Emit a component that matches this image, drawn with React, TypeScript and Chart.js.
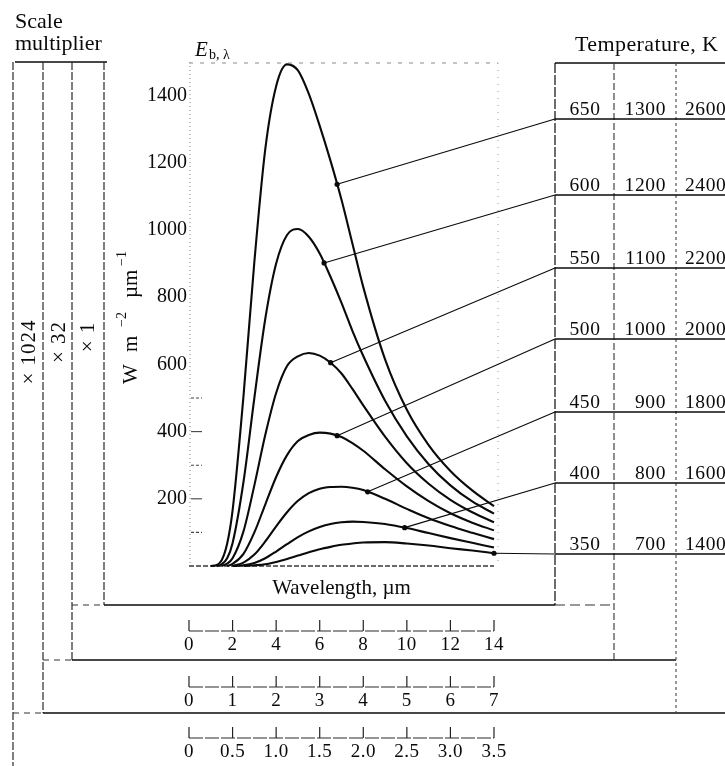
import React, { useEffect, useRef } from "react";
import { Chart, registerables } from "chart.js";

Chart.register(...registerables);

// Wavelength grid, µm (the ×1 scale)
const wavelengths = [1, 1.25, 1.5, 1.75, 2, 2.5, 3, 3.5, 4, 4.5, 5, 5.5, 6, 6.5, 7, 7.5, 8, 9, 10, 11, 12, 13, 14];

// Spectral emissive power E_b,λ in W m^-2 µm^-1 (×1 scale); null = curve not yet started
const eb650 = [0, 2, 17, 66, 165, 505, 905, 1240, 1428, 1493, 1475, 1405, 1310, 1205, 1090, 960, 830, 615, 465, 360, 283, 225, 178];
const eb600 = [null, 0, 5, 23, 68, 250, 500, 735, 900, 985, 1003, 980, 930, 860, 783, 700, 625, 492, 386, 303, 240, 192, 156];
const eb550 = [null, null, 0, 7, 23, 103, 240, 390, 515, 595, 624, 634, 626, 605, 573, 527, 478, 385, 306, 245, 197, 160, 130];
const eb500 = [null, null, null, 0, 6, 36, 100, 183, 265, 330, 372, 390, 397, 394, 384, 366, 343, 288, 237, 193, 157, 129, 106];
const eb450 = [null, null, null, null, 0, 10, 34, 73, 118, 160, 194, 217, 230, 235, 236, 233, 226, 200, 170, 142, 119, 99, 80];
const eb400 = [null, null, null, null, 0, 2, 9, 23, 43, 65, 86, 103, 116, 125, 130, 132, 131, 125, 113, 98, 83, 69, 55];
const eb350 = [null, null, null, null, null, 0, 2, 5, 12, 21, 31, 41, 50, 57, 63, 67, 70, 71, 67, 61, 53, 46, 38];

const curves = [eb650, eb600, eb550, eb500, eb450, eb400, eb350];

// Temperature table, K, one row per curve
const tempsX1 = ["650", "600", "550", "500", "450", "400", "350"];
const tempsX32 = ["1300", "1200", "1100", "1000", "900", "800", "700"];
const tempsX1024 = ["2600", "2400", "2200", "2000", "1800", "1600", "1400"];

// Wavelength where each leader line touches its curve, µm
const leaderAt = [6.8, 6.2, 6.5, 6.8, 8.2, 9.9, 14];

// Axis ticks
const yTickValues = [200, 400, 600, 800, 1000, 1200, 1400];
const yMinorTicks = [100, 200, 300, 400, 500];
const xTicksX1 = ["0", "2", "4", "6", "8", "10", "12", "14"];
const xTicksX32 = ["0", "1", "2", "3", "4", "5", "6", "7"];
const xTicksX1024 = ["0", "0.5", "1.0", "1.5", "2.0", "2.5", "3.0", "3.5"];

const SERIF = '"Liberation Serif", "Times New Roman", serif';
const INK = "#0a0a0a";
const W = 725;
const H = 766;
const Y_AXIS_W = 60;

// table geometry
const ROW_Y = [119, 195, 268, 339, 412, 483, 554];
const COL_X = [555, 614, 676];

function valueAt(series: (number | null)[], lam: number): number {
  for (let i = 0; i < wavelengths.length - 1; i++) {
    const a = wavelengths[i];
    const b = wavelengths[i + 1];
    if (lam >= a && lam <= b) {
      const va = series[i] ?? 0;
      const vb = series[i + 1] ?? 0;
      return va + ((vb - va) * (lam - a)) / (b - a);
    }
  }
  return series[series.length - 1] ?? 0;
}

function seg(
  ctx: CanvasRenderingContext2D,
  x1: number, y1: number, x2: number, y2: number,
  color = INK, width = 1.2, dash: number[] = []
) {
  ctx.save();
  ctx.strokeStyle = color;
  ctx.lineWidth = width;
  ctx.setLineDash(dash);
  ctx.beginPath();
  ctx.moveTo(x1, y1);
  ctx.lineTo(x2, y2);
  ctx.stroke();
  ctx.restore();
}

function text(
  ctx: CanvasRenderingContext2D, s: string, x: number, y: number,
  size = 19, align: CanvasTextAlign = "left", style = "", spacing = 0
) {
  ctx.save();
  ctx.fillStyle = INK;
  ctx.font = `${style} ${size}px ${SERIF}`;
  (ctx as any).letterSpacing = `${spacing}px`;
  ctx.textAlign = align;
  ctx.textBaseline = "alphabetic";
  ctx.fillText(s, x, y);
  ctx.restore();
}

function vtext(ctx: CanvasRenderingContext2D, s: string, cx: number, cy: number, size = 20) {
  ctx.save();
  ctx.translate(cx, cy);
  ctx.rotate(-Math.PI / 2);
  ctx.fillStyle = INK;
  ctx.font = `${size}px ${SERIF}`;
  (ctx as any).letterSpacing = "1px";
  ctx.textAlign = "center";
  ctx.textBaseline = "middle";
  ctx.fillText(s, 0, 0);
  ctx.restore();
}

const figurePlugin = {
  id: "blackbodyFigure",
  beforeDatasetsDraw(chart: any) {
    const ctx: CanvasRenderingContext2D = chart.ctx;
    const { left, right, top, bottom } = chart.chartArea;
    const x = chart.scales.x;
    const y = chart.scales.y;

    // plot frame
    seg(ctx, left + 1, top, left + 1, bottom, "#8a8a8a", 1, [1, 3]);
    seg(ctx, left, top + 1, right + 4, top + 1, "#8a8a8a", 1, [4, 7]);
    seg(ctx, right + 4, top + 1, right + 4, bottom, "#9a9a9a", 1, [1, 6]);
    seg(ctx, left, bottom, x.getPixelForValue(14), bottom, "#3a3a3a", 1.3, [5, 2]);

    // inward ticks on the energy axis
    yMinorTicks.forEach((v) => {
      const py = y.getPixelForValue(v);
      seg(ctx, left + 2, py, left + 13, py, "#444", 1.1, v % 200 ? [3, 2] : []);
    });

    // scale multiplier columns
    seg(ctx, 15, 62, 107, 62, INK, 1.5);
    seg(ctx, 13, 62, 13, H, "#2a2a2a", 1.2, [8, 2]);
    seg(ctx, 43, 62, 43, 713, "#2a2a2a", 1.2, [8, 2]);
    seg(ctx, 72, 62, 72, 660, "#2a2a2a", 1.2, [8, 2]);
    seg(ctx, 104, 62, 104, 605, "#2a2a2a", 1.2, [8, 2]);

    // box bottoms
    seg(ctx, 72, 605, 104, 605, "#333", 1.2, [6, 5]);
    seg(ctx, 104, 605, COL_X[0], 605, INK, 1.3);
    seg(ctx, COL_X[0], 605, COL_X[1], 605, "#333", 1.2, [10, 5]);
    seg(ctx, 43, 660, 72, 660, "#333", 1.2, [6, 5]);
    seg(ctx, 72, 660, COL_X[2], 660, INK, 1.3);
    seg(ctx, 13, 713, 43, 713, "#333", 1.2, [6, 5]);
    seg(ctx, 43, 713, W, 713, INK, 1.3);

    // temperature table frame
    seg(ctx, COL_X[0], 63, W, 63, INK, 1.3);
    seg(ctx, COL_X[0], 63, COL_X[0], 605, INK, 1.2, [10, 2]);
    seg(ctx, COL_X[1], 63, COL_X[1], 660, "#333", 1.1, [7, 3]);
    seg(ctx, COL_X[2], 63, COL_X[2], 713, "#444", 1.1, [3, 3]);
  },
  afterDatasetsDraw(chart: any) {
    const ctx: CanvasRenderingContext2D = chart.ctx;
    const { left, right } = chart.chartArea;
    const x = chart.scales.x;
    const y = chart.scales.y;

    // leader lines from the curves to the temperature rows
    curves.forEach((series, i) => {
      const px = x.getPixelForValue(leaderAt[i]);
      const py = y.getPixelForValue(valueAt(series, leaderAt[i]));
      seg(ctx, px, py, COL_X[0], ROW_Y[i], INK, 1.1);
      seg(ctx, COL_X[0], ROW_Y[i], W, ROW_Y[i], INK, 1.4);
      ctx.save();
      ctx.fillStyle = INK;
      ctx.beginPath();
      ctx.arc(px, py, 2.6, 0, Math.PI * 2);
      ctx.fill();
      ctx.restore();
      text(ctx, tempsX1[i], 585, ROW_Y[i] - 4, 19.5, "center", "", 0.6);
      text(ctx, tempsX32[i], 666, ROW_Y[i] - 4, 19.5, "right", "", 0.6);
      text(ctx, tempsX1024[i], 685, ROW_Y[i] - 4, 19.5, "left", "", 0.6);
    });

    // headings
    text(ctx, "Scale", 15, 28, 22);
    text(ctx, "multiplier", 15, 50, 22);
    text(ctx, "Temperature, K", 575, 51, 22, "left", "", 0.4);
    text(ctx, "E", 195, 56, 21, "left", "italic");
    text(ctx, "b, λ", 209, 59, 14);
    text(ctx, "Wavelength, µm", (left + right) / 2, 594, 21, "center");

    // energy axis title with superscripts, rotated
    ctx.save();
    ctx.translate(137, 384);
    ctx.rotate(-Math.PI / 2);
    ctx.fillStyle = INK;
    ctx.font = `21px ${SERIF}`;
    ctx.fillText("W", 0, 0);
    ctx.fillText("m", 32, 0);
    ctx.fillText("µm", 86, 0);
    ctx.font = `14px ${SERIF}`;
    ctx.fillText("−2", 57, -11);
    ctx.fillText("−1", 118, -11);
    ctx.restore();

    // multiplier labels
    vtext(ctx, "× 1024", 29, 352, 21);
    vtext(ctx, "× 32", 59, 342, 21);
    vtext(ctx, "× 1", 88, 337, 21);

    // wavelength scales for each multiplier
    const rows: [string[], number, number][] = [
      [xTicksX1, 1, 631],
      [xTicksX32, 2, 687],
      [xTicksX1024, 4, 738],
    ];
    rows.forEach(([labels, factor, base]) => {
      const p0 = x.getPixelForValue(0);
      const p1 = x.getPixelForValue(parseFloat(labels[labels.length - 1]) * factor);
      seg(ctx, p0, base, p1, base, "#2a2a2a", 1.2, [14, 2]);
      labels.forEach((lab) => {
        const px = x.getPixelForValue(parseFloat(lab) * factor);
        seg(ctx, px, base - 11, px, base, "#222", 1.2);
        text(ctx, lab, px, base + 19, 19, "center", "", 0.5);
      });
    });
  },
};

export default function App() {
  const ref = useRef<HTMLCanvasElement | null>(null);

  useEffect(() => {
    if (!ref.current) return;
    const datasets = curves.map((series, i) => ({
      label: tempsX1[i] + " K",
      data: wavelengths
        .map((lam, j) => ({ x: lam, y: series[j] }))
        .filter((p) => p.y !== null) as { x: number; y: number }[],
      borderColor: INK,
      borderWidth: 2.1,
      pointRadius: 0,
      fill: false,
      cubicInterpolationMode: "monotone" as const,
      clip: false as const,
    }));

    const chart = new Chart(ref.current, {
      type: "line",
      data: { datasets },
      options: {
        responsive: false,
        animation: false,
        devicePixelRatio: 1,
        layout: {
          padding: { left: 189 - Y_AXIS_W, right: W - 494, top: 62, bottom: H - 566 },
        },
        plugins: {
          legend: { display: false },
          tooltip: { enabled: false },
        },
        scales: {
          x: { type: "linear", min: 0, max: 14, display: false },
          y: {
            type: "linear",
            min: 0,
            max: 1500,
            afterFit: (s: any) => {
              s.width = Y_AXIS_W;
            },
            afterBuildTicks: (s: any) => {
              s.ticks = yTickValues.map((v) => ({ value: v }));
            },
            grid: { display: false, drawTicks: false },
            border: { display: false },
            ticks: {
              padding: 2,
              color: INK,
              font: { family: SERIF, size: 20 },
              callback: (v: any) => String(v),
            },
          },
        },
      },
      plugins: [figurePlugin],
    });
    return () => chart.destroy();
  }, []);

  return (
    <div style={{ position: "absolute", left: 0, top: 0, width: W, height: H, background: "#fff" }}>
      <canvas ref={ref} width={W} height={H} style={{ display: "block" }} />
    </div>
  );
}
